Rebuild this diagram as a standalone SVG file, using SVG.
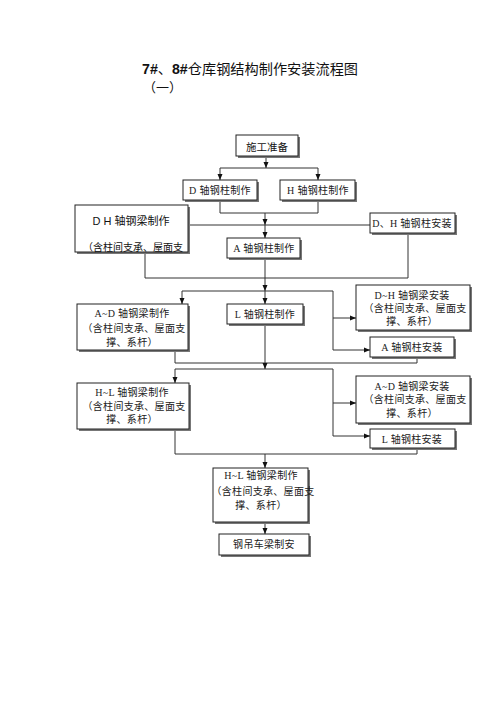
<svg xmlns="http://www.w3.org/2000/svg" width="500" height="707" viewBox="0 0 500 707">
<style>
.bg{fill:#fff}
.sh{fill:#777}
.bx{fill:#fff;stroke:#222;stroke-width:1}
.t{font-family:"Liberation Serif","Noto Sans CJK SC",serif;font-size:10px;fill:#222;text-anchor:middle;letter-spacing:0.3px}
.s{font-family:"Liberation Sans","Noto Sans CJK SC",sans-serif;fill:#111;text-anchor:middle}
.ln{fill:none;stroke:#333;stroke-width:1}
.ar{fill:none;stroke:#333;stroke-width:1;marker-end:url(#ah)}
</style>
<defs>
<marker id="ah" markerUnits="userSpaceOnUse" markerWidth="6" markerHeight="6" viewBox="0 0 6 6" refX="6" refY="3" orient="auto">
<path d="M0,0.5 L6,3 L0,5.5 Z" fill="#111"/>
</marker>
</defs>
<rect class="bg" x="0" y="0" width="500" height="707"/>
<g id="title">
<text x="142" y="74" font-size="14.2" font-family="'Noto Sans CJK SC',sans-serif" fill="#111"><tspan font-family="'Liberation Sans',sans-serif" font-weight="bold">7#</tspan>、<tspan font-family="'Liberation Sans',sans-serif" font-weight="bold">8#</tspan>仓库钢结构制作安装流程图</text>
<text x="143" y="92" font-size="13" font-family="'Noto Sans CJK SC',sans-serif" fill="#111">（一）</text>
</g>
<g id="connectors">
<path class="ar" d="M266,156 V168"/>
<path class="ln" d="M220,168 H318"/>
<path class="ar" d="M220,168 V180"/>
<path class="ar" d="M318,168 V180"/>
<path class="ln" d="M220,200 V213 H318 V200"/>
<path class="ar" d="M265,213 V225"/>
<path class="ln" d="M188,225 H370"/>
<path class="ar" d="M265,225 V238"/>
<path class="ln" d="M145,252 V278 H408 V233"/>
<path class="ar" d="M265,258 V291"/>
<path class="ln" d="M182,291 H333 V350"/>
<path class="ar" d="M182,291 V304"/>
<path class="ar" d="M265,291 V304"/>
<path class="ar" d="M333,318 H356"/>
<path class="ar" d="M333,350 H370"/>
<path class="ln" d="M175,350 V363 H417 V357"/>
<path class="ar" d="M265,324 V369"/>
<path class="ln" d="M175,369 H333 V436"/>
<path class="ar" d="M175,369 V383"/>
<path class="ar" d="M333,403 H356"/>
<path class="ar" d="M333,436 H370"/>
<path class="ln" d="M175,429 V454 H417 V448"/>
<path class="ar" d="M265,454 V468"/>
<path class="ar" d="M265,522 V534"/>
</g>
<g id="n1">
<rect class="sh" x="238" y="137" width="62" height="21"/>
<rect class="bx" x="236" y="135" width="62" height="21"/>
<text class="s" x="267" y="151" font-size="10.5">施工准备</text>
</g>
<g id="n2">
<rect class="sh" x="185" y="182" width="74" height="20"/>
<rect class="bx" x="183" y="180" width="74" height="20"/>
<text class="t" x="220" y="194">D 轴钢柱制作</text>
</g>
<g id="n3">
<rect class="sh" x="282" y="182" width="75" height="20"/>
<rect class="bx" x="280" y="180" width="75" height="20"/>
<text class="t" x="318" y="194">H 轴钢柱制作</text>
</g>
<g id="n4">
<rect class="sh" x="77" y="207" width="113" height="47"/>
<rect class="bx" x="75" y="205" width="113" height="47"/>
<text class="s" x="131" y="225" font-size="11">D  H 轴钢梁制作</text>
<text class="s" x="133" y="251" font-size="10">（含柱间支承、屋面支</text>
</g>
<g id="n5">
<rect class="sh" x="229" y="240" width="73" height="20"/>
<rect class="bx" x="227" y="238" width="73" height="20"/>
<text class="t" x="264" y="252">A 轴钢柱制作</text>
</g>
<g id="n6">
<rect class="sh" x="372" y="215" width="85" height="20"/>
<rect class="bx" x="370" y="213" width="85" height="20"/>
<text class="t" x="412" y="227">D、H 轴钢柱安装</text>
</g>
<g id="n7">
<rect class="sh" x="79" y="306" width="111" height="46"/>
<rect class="bx" x="77" y="304" width="111" height="46"/>
<text class="t" x="132" y="317">A~D 轴钢梁制作</text>
<text class="t" x="134" y="332">（含柱间支承、屋面支</text>
<text class="t" x="132" y="346">撑、系杆）</text>
</g>
<g id="n8">
<rect class="sh" x="229" y="306" width="76" height="20"/>
<rect class="bx" x="227" y="304" width="76" height="20"/>
<text class="t" x="265" y="318">L 轴钢柱制作</text>
</g>
<g id="n9">
<rect class="sh" x="358" y="287" width="114" height="45"/>
<rect class="bx" x="356" y="285" width="114" height="45"/>
<text class="t" x="412" y="299">D~H 轴钢梁安装</text>
<text class="t" x="415" y="312">（含柱间支承、屋面支</text>
<text class="t" x="412" y="325">撑、系杆）</text>
</g>
<g id="n10">
<rect class="sh" x="372" y="339" width="84" height="20"/>
<rect class="bx" x="370" y="337" width="84" height="20"/>
<text class="t" x="412" y="351">A 轴钢柱安装</text>
</g>
<g id="n11">
<rect class="sh" x="79" y="385" width="112" height="46"/>
<rect class="bx" x="77" y="383" width="112" height="46"/>
<text class="t" x="132" y="396">H~L 轴钢梁制作</text>
<text class="t" x="134" y="410">（含柱间支承、屋面支</text>
<text class="t" x="132" y="423">撑、系杆）</text>
</g>
<g id="n12">
<rect class="sh" x="358" y="378" width="114" height="47"/>
<rect class="bx" x="356" y="376" width="114" height="47"/>
<text class="t" x="412" y="390">A~D 轴钢梁安装</text>
<text class="t" x="415" y="403">（含柱间支承、屋面支</text>
<text class="t" x="412" y="417">撑、系杆）</text>
</g>
<g id="n13">
<rect class="sh" x="372" y="431" width="85" height="19"/>
<rect class="bx" x="370" y="429" width="85" height="19"/>
<text class="t" x="412" y="443">L 轴钢柱安装</text>
</g>
<g id="n14">
<rect class="sh" x="215" y="470" width="95" height="54"/>
<rect class="bx" x="213" y="468" width="95" height="54"/>
<text class="t" x="261" y="479">H~L 轴钢梁制作</text>
<text class="t" x="263" y="495">（含柱间支承、屋面支</text>
<text class="t" x="261" y="509">撑、系杆）</text>
</g>
<g id="n15">
<rect class="sh" x="221" y="536" width="90" height="21"/>
<rect class="bx" x="219" y="534" width="90" height="21"/>
<text class="t" x="264" y="548">钢吊车梁制安</text>
</g>
</svg>
